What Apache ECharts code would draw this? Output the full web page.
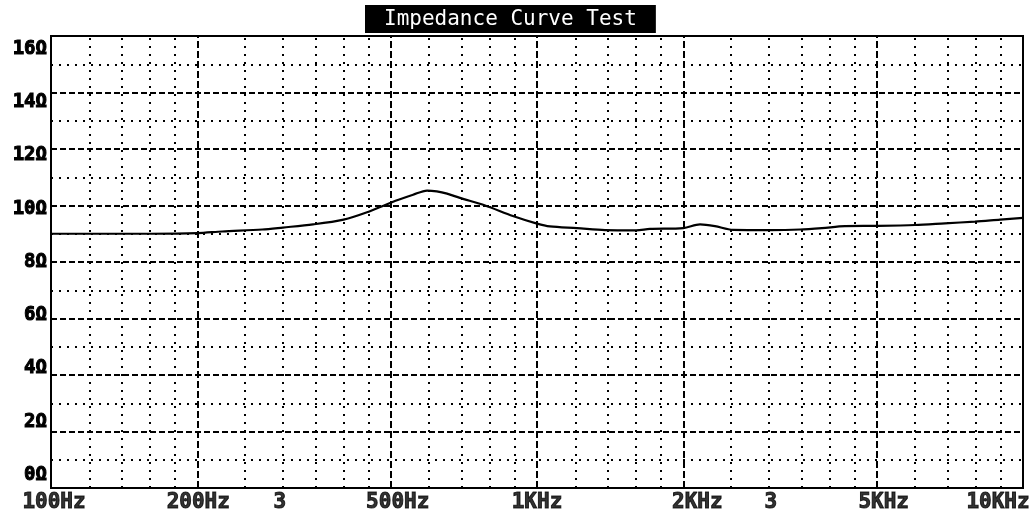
<!DOCTYPE html>
<html>
<head>
<meta charset="utf-8">
<script src="https://cdn.jsdelivr.net/npm/echarts@6/dist/echarts.min.js"></script>
<style>
  html, body { margin: 0; padding: 0; background: #fff; }
  #chart { width: 1034px; height: 514px; }
</style>
</head>
<body>
<div id="chart"></div>
<script>
// ---- data ----
const titleText = 'Impedance Curve Test';
const freqs = [100,160,200,225,272,300,346,400,447,500,556,594,622,653,694,782,892,1000,1063,1209,1380,1600,1708,2000,2165,2323,2530,3016,3476,3858,4302,5000,5995,6911,7963,8970,10000];
const ohms  = [9.0,9.0,9.02,9.08,9.15,9.22,9.33,9.5,9.76,10.1,10.38,10.53,10.5,10.42,10.27,10.0,9.63,9.36,9.26,9.2,9.13,9.12,9.17,9.2,9.33,9.27,9.14,9.13,9.15,9.2,9.27,9.28,9.31,9.37,9.43,9.5,9.56];
const xTickFreqs  = [100,200,300,500,1000,2000,3000,5000,10000];
const xTickLabels = ['100Hz','200Hz','3','500Hz','1KHz','2KHz','3','5KHz','10KHz'];
const majorFreqs = [200,500,1000,2000,5000];
const minorFreqs = [120,140,160,180,250,300,350,400,450,600,700,800,900,1200,1400,1600,1800,2500,3000,3500,4000,4500,6000,7000,8000,9000];
const majorOhms = [2,4,6,8,10,12,14];
const minorOhms = [1,3,5,7,9,11,13,15];

// ---- styles ----
const xLabelShift = [3,1,-3,7,0,14,2,7,-25];
const monoFont = '"DejaVu Sans Mono", "Liberation Mono", monospace';
const dashedV = { color: '#000', width: 2, type: [7,3] };
const dashedH = { color: '#000', width: 2, type: [6,3] };
const dotted  = { color: '#000', width: 2, type: [2,6] };

const gridLines = []
  .concat(minorFreqs.map(f => ({ xAxis: f, lineStyle: dotted })))
  .concat(minorOhms.map(v => ({ yAxis: v, lineStyle: dotted })))
  .concat(majorOhms.map(v => ({ yAxis: v, lineStyle: dashedH })))
  .concat(majorFreqs.map(f => ({ xAxis: f, lineStyle: dashedV })));

const chart = echarts.init(document.getElementById('chart'), null, { renderer: 'canvas' });
chart.setOption({
  animation: false,
  backgroundColor: '#fff',
  title: {
    text: titleText,
    left: 365, top: 5,
    padding: [4, 19, 3, 19],
    backgroundColor: '#000',
    textStyle: { color: '#fff', fontFamily: monoFont, fontWeight: 'normal', fontSize: 21 }
  },
  grid: [
    { left: 51, right: 11, top: 36, bottom: 26, show: true, borderColor: '#000', borderWidth: 2, backgroundColor: 'transparent' },
    { left: 0, width: 48, top: 49, height: 426, show: false }
  ],
  xAxis: [
    { type: 'log', logBase: 10, min: 100, max: 10000, gridIndex: 0,
      axisLine: { show: false }, axisTick: { show: false }, axisLabel: { show: false }, splitLine: { show: false } },
    { type: 'value', min: 0, max: 1, gridIndex: 1, show: false }
  ],
  yAxis: [
    { type: 'value', min: 0, max: 16, interval: 2, gridIndex: 0,
      axisLine: { show: false }, axisTick: { show: false }, axisLabel: { show: false }, splitLine: { show: false } },
    { type: 'value', min: 0, max: 16, interval: 2, gridIndex: 1,
      axisLine: { show: false }, axisTick: { show: false }, splitLine: { show: false },
      axisLabel: { margin: 1, color: '#000', fontFamily: monoFont, fontWeight: 'bold', fontSize: 19,
        textBorderColor: '#000', textBorderWidth: 1,
        formatter: v => v + 'Ω' } }
  ],
  series: [
    {
      type: 'line', data: [], xAxisIndex: 0, yAxisIndex: 0, silent: true, z: 1,
      markLine: {
        silent: true, animation: false, symbol: ['none', 'none'],
        label: { show: false }, emphasis: { disabled: true },
        data: gridLines
      }
    },
    {
      type: 'line', xAxisIndex: 0, yAxisIndex: 0, z: 5,
      data: freqs.map((f, i) => [f, ohms[i]]),
      showSymbol: false, symbol: 'none', smooth: 0.3,
      lineStyle: { color: '#000', width: 2.2 }
    },
    {
      type: 'scatter', xAxisIndex: 0, yAxisIndex: 0, z: 6, silent: true,
      symbolSize: 0,
      data: xTickFreqs.map((f, i) => ({
        value: [f, 0],
        label: { offset: [xLabelShift[i], 15] }
      })),
      label: {
        show: true, position: 'inside', align: 'center', verticalAlign: 'middle',
        color: '#000', fontFamily: monoFont, fontWeight: 'bold', fontSize: 21,
        textBorderColor: '#000', textBorderWidth: 1,
        formatter: p => xTickLabels[p.dataIndex]
      }
    }
  ]
});
</script>
</body>
</html>
